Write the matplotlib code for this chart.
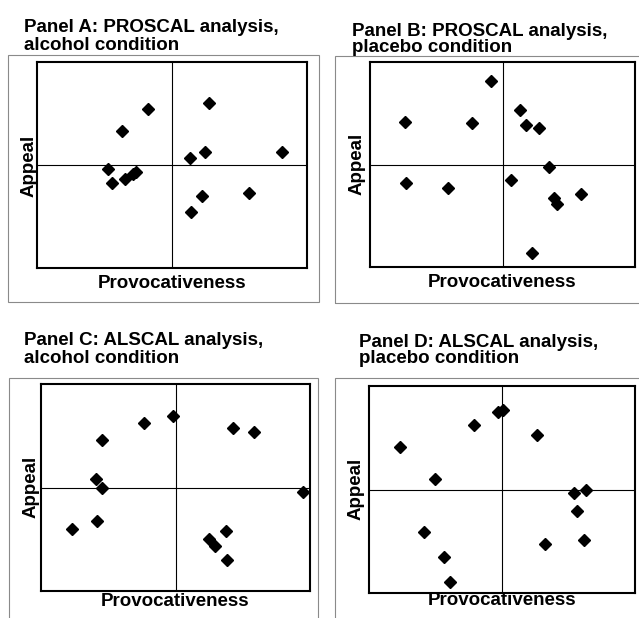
import matplotlib
matplotlib.use("Agg")
import matplotlib.pyplot as plt
from matplotlib.patches import Rectangle

plt.rcParams['font.family'] = ['Liberation Sans', 'DejaVu Sans']

# point coordinates (axes centred on 0, range -1..1)
a_x = [-0.175, 0.273, -0.374, 0.133, 0.244, 0.815, -0.475, -0.446, -0.347, -0.291, -0.268, 0.571, 0.219, 0.140]
a_y = [0.543, 0.602, 0.331, 0.070, 0.129, 0.129, -0.038, -0.175, -0.132, -0.086, -0.070, -0.272, -0.299, -0.452]

b_x = [-0.084, 0.135, -0.736, -0.233, 0.177, 0.275, 0.353, -0.728, 0.064, -0.409, 0.389, 0.414, 0.590, 0.225]
b_y = [0.810, 0.533, 0.415, 0.402, 0.389, 0.353, -0.029, -0.176, -0.154, -0.229, -0.330, -0.389, -0.291, -0.859]

c_x = [-0.015, -0.235, 0.431, 0.584, -0.547, -0.589, -0.547, 0.946, -0.584, -0.770, 0.376, 0.250, 0.297, 0.386]
c_y = [0.694, 0.626, 0.571, 0.535, 0.455, 0.081, -0.006, -0.045, -0.323, -0.400, -0.416, -0.497, -0.561, -0.700]

d_x = [-0.028, 0.008, -0.211, 0.263, -0.767, -0.501, 0.541, 0.629, 0.561, -0.584, 0.323, 0.617, -0.436, -0.388]
d_y = [0.746, 0.768, 0.621, 0.522, 0.414, 0.104, -0.037, -0.008, -0.204, -0.406, -0.522, -0.487, -0.652, -0.889]

titles = [("Panel A: PROSCAL analysis,", "alcohol condition"),
          ("Panel B: PROSCAL analysis,", "placebo condition"),
          ("Panel C: ALSCAL analysis,", "alcohol condition"),
          ("Panel D: ALSCAL analysis,", "placebo condition")]

W, H = 639, 618
fig = plt.figure(figsize=(W / 100, H / 100), dpi=100)


def fx(px):
    return px / W


def fy(py):
    return 1 - py / H


# layout in pixels
axes_box = [(37, 62, 307, 268), (370, 62, 635, 267), (41, 384, 310, 591), (369, 386, 635, 593)]
outer_box = [(8, 55, 319, 302), (335, 56, 641, 303), (9, 378, 318, 630), (335, 378, 641, 630)]
title_pos = [(24, 32, 50), (352, 36, 52), (24, 345, 363), (359, 347, 363)]
xlab_y = [288, 287, 606, 605]
ylab_pos = [(29, 166), (357, 164), (31, 487), (356, 489)]

data = [(a_x, a_y), (b_x, b_y), (c_x, c_y), (d_x, d_y)]

for i in range(4):
    l, t, r, b = outer_box[i]
    fig.add_artist(Rectangle((fx(l), fy(b)), fx(r) - fx(l), fy(t) - fy(b),
                             transform=fig.transFigure, fill=False,
                             edgecolor='#8a8a8a', linewidth=0.8))

    l, t, r, b = axes_box[i]
    ax = fig.add_axes([fx(l), fy(b), fx(r) - fx(l), fy(t) - fy(b)])
    xs, ys = data[i]
    ax.plot(xs, ys, 'D', color='black', markersize=6, linestyle='none')
    ax.axhline(0, color='black', linewidth=0.8)
    ax.axvline(0, color='black', linewidth=0.8)
    ax.set_xlim(-1, 1)
    ax.set_ylim(-1, 1)
    ax.set_xticks([])
    ax.set_yticks([])
    for s in ax.spines.values():
        s.set_linewidth(1.5)

    tx, y1, y2 = title_pos[i]
    fig.text(fx(tx), fy(y1), titles[i][0], fontsize=13.5, fontweight='bold', va='baseline')
    fig.text(fx(tx), fy(y2), titles[i][1], fontsize=13.5, fontweight='bold', va='baseline')

    fig.text(fx((l + r) / 2), fy(xlab_y[i]), "Provocativeness", fontsize=13.5,
             fontweight='bold', ha='center', va='baseline')
    lx, ly = ylab_pos[i]
    fig.text(fx(lx), fy(ly), "Appeal", fontsize=13.5, fontweight='bold',
             rotation=90, ha='center', va='center')

fig.savefig("out.png", dpi=100)
